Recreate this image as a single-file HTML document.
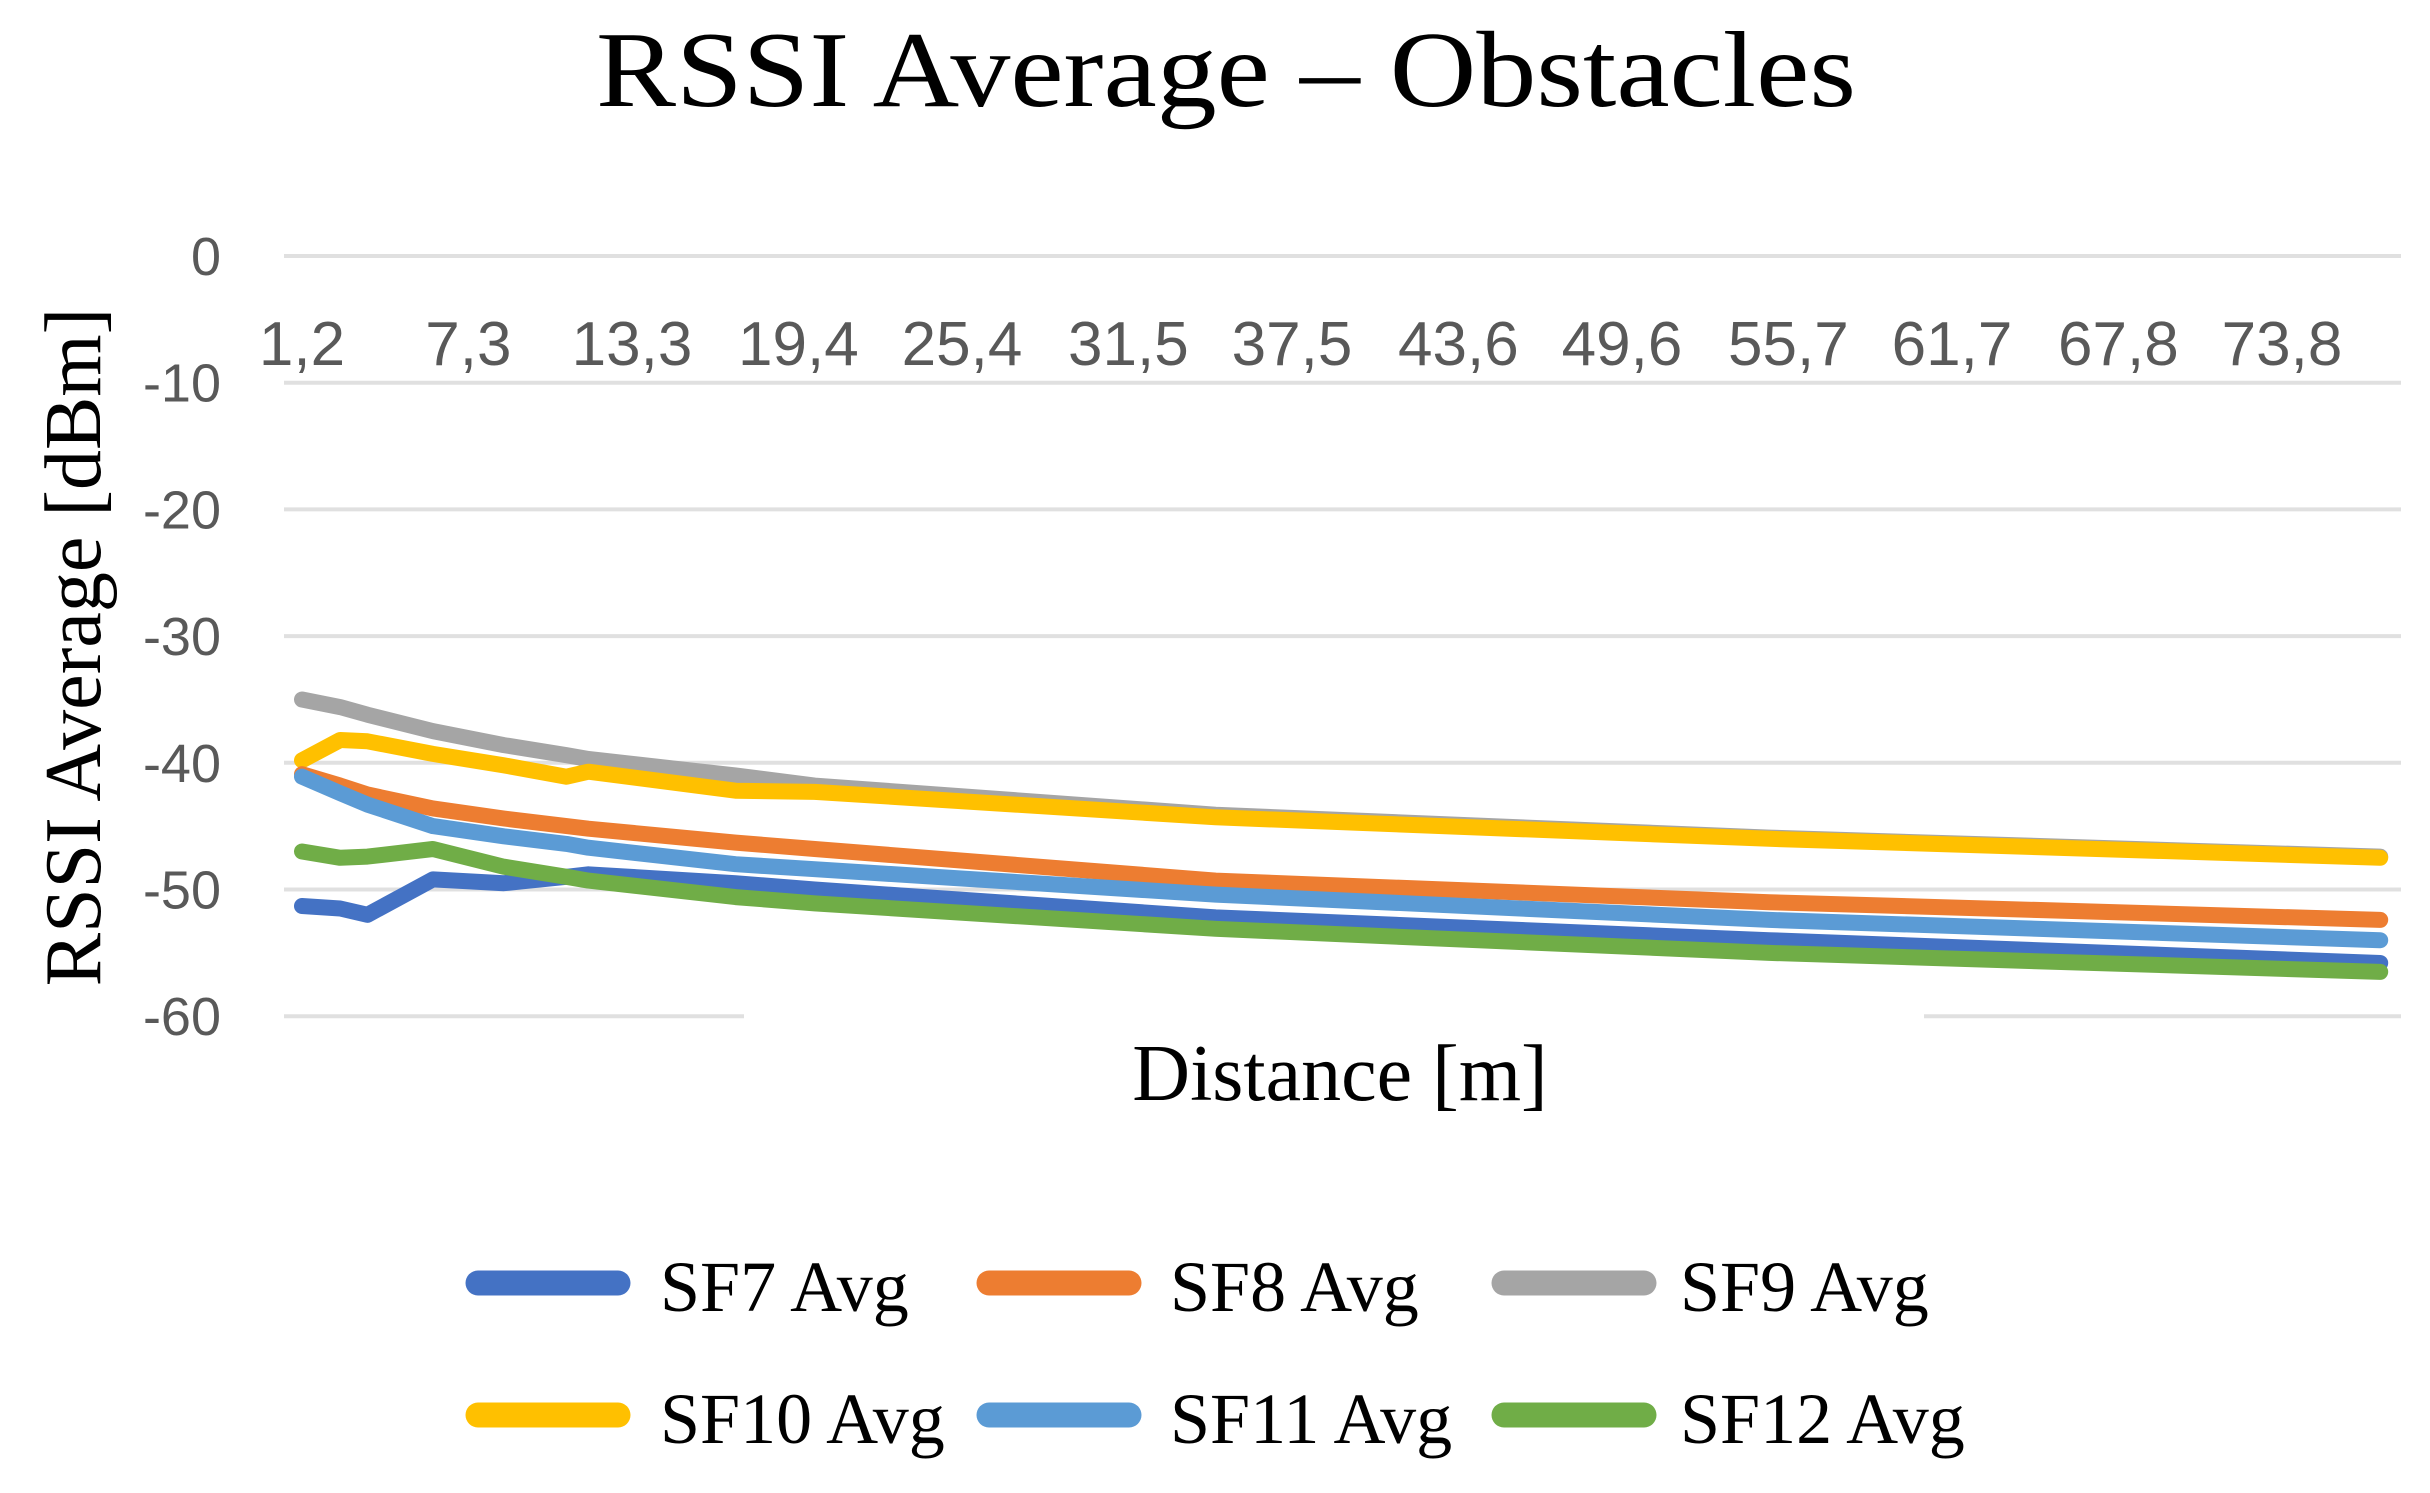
<!DOCTYPE html>
<html><head><meta charset="utf-8"><style>
html,body{margin:0;padding:0;background:#fff}
svg{display:block}
</style></head><body>
<svg id="chart" width="2430" height="1493" viewBox="0 0 2430 1493" xmlns="http://www.w3.org/2000/svg">
<text x="1226" y="106" text-anchor="middle" font-family="Liberation Serif, serif" font-size="108" textLength="1260" lengthAdjust="spacingAndGlyphs" fill="#000">RSSI Average – Obstacles</text>
<g id="grid"></g>
<g id="yticks"></g>
<g id="xticks"></g>
<g id="series"></g>
<text transform="translate(100,647) rotate(-90)" text-anchor="middle" font-family="Liberation Serif, serif" font-size="80" fill="#000">RSSI Average [dBm]</text>
<text x="1340" y="1100" text-anchor="middle" font-family="Liberation Serif, serif" font-size="80" fill="#000">Distance [m]</text>
<g id="legend"></g>
</svg>
<script>
const yTicks = [0, -10, -20, -30, -40, -50, -60];
const xTickLabels = ["1,2","7,3","13,3","19,4","25,4","31,5","37,5","43,6","49,6","55,7","61,7","67,8","73,8"];
const xTickValues = [1.2,7.3,13.3,19.4,25.4,31.5,37.5,43.6,49.6,55.7,61.7,67.8,73.8];
const distances = [1.2, 2.6, 3.6, 6.0, 8.6, 10.9, 11.7, 17.1, 20, 34.7, 55, 77.4];
const seriesNames = ["SF7 Avg","SF8 Avg","SF9 Avg","SF10 Avg","SF11 Avg","SF12 Avg"];
const sf7 = [-51.3,-51.5,-52,-49.2,-49.5,-49,-48.8,-49.5,-50,-52.2,-54,-55.8];
const sf8 = [-40.9,-41.8,-42.5,-43.6,-44.4,-45,-45.2,-46.3,-46.8,-49.3,-51,-52.4];
const sf9 = [-35,-35.6,-36.2,-37.5,-38.6,-39.4,-39.7,-41,-41.8,-44.1,-45.9,-47.4];
const sf10 = [-39.8,-38.2,-38.3,-39.3,-40.2,-41.1,-40.7,-42.2,-42.3,-44.3,-46,-47.5];
const sf11 = [-41.1,-42.4,-43.3,-45,-45.8,-46.4,-46.7,-48,-48.4,-50.4,-52.4,-54];
const sf12 = [-47,-47.5,-47.4,-46.8,-48.2,-49,-49.3,-50.6,-51.1,-53.1,-55,-56.5];

const NS = "http://www.w3.org/2000/svg";
const colors = ["#4472C4","#ED7D31","#A5A5A5","#FFC000","#5B9BD5","#70AD47"];
const allSeries = [sf7,sf8,sf9,sf10,sf11,sf12];
const yScale = v => 256 + (-v) * 12.67;
const xScale = d => 302 + (d - 1.2) * (165 / 6.05);
function mk(tag, attrs, parent){const e=document.createElementNS(NS,tag);for(const k in attrs)e.setAttribute(k,attrs[k]);parent.appendChild(e);return e;}

const grid = document.getElementById('grid');
const yt = document.getElementById('yticks');
yTicks.forEach(v=>{
  const y = yScale(v);
  if (v === -60) {
    const a = mk('line',{x1:284,x2:744,y1:y,y2:y,stroke:'#e0e0e0','stroke-width':4},grid);
    
    
    const b = mk('line',{x1:1924,x2:2401,y1:y,y2:y,stroke:'#e0e0e0','stroke-width':4},grid);
    
    
  } else {
    const l = mk('line',{x1:284,x2:2401,y1:y,y2:y,stroke:'#e0e0e0','stroke-width':4},grid);
    
    
  }
  const t = mk('text',{x:221,y:y+19,'text-anchor':'end','font-family':'Liberation Sans, sans-serif','font-size':54,fill:'#595959'},yt);
  t.textContent = String(v);
  
  
});

const xt = document.getElementById('xticks');
xTickLabels.forEach((lab,i)=>{
  const t = mk('text',{x:xScale(xTickValues[i]),y:365,'text-anchor':'middle','font-family':'Liberation Sans, sans-serif','font-size':62,fill:'#595959'},xt);
  t.textContent = lab;
  
  
});

const sg = document.getElementById('series');
[2,3,1,4,0,5].forEach(si=>{
  const vals = allSeries[si];
  const pts = distances.map((d,i)=>xScale(d).toFixed(1)+','+yScale(vals[i]).toFixed(1)).join(' ');
  const p = mk('polyline',{points:pts,fill:'none',stroke:colors[si],'stroke-width':16,'stroke-linejoin':'round','stroke-linecap':'round'},sg);
  
  
});

const lg = document.getElementById('legend');
const swX = [466,977,1492], txX=[660,1170,1680], rowY=[1283,1415];
seriesNames.forEach((n,i)=>{
  const r = Math.floor(i/3), c = i%3;
  const g = mk('g',{},lg);
  
  
  mk('line',{x1:swX[c]+12,x2:swX[c]+152,y1:rowY[r],y2:rowY[r],stroke:colors[i],'stroke-width':25,'stroke-linecap':'round'},g);
  const t = mk('text',{x:txX[c],y:rowY[r]+28,'font-family':'Liberation Serif, serif','font-size':72,fill:'#000'},g);
  t.textContent = n;
});
</script>
</body></html>
